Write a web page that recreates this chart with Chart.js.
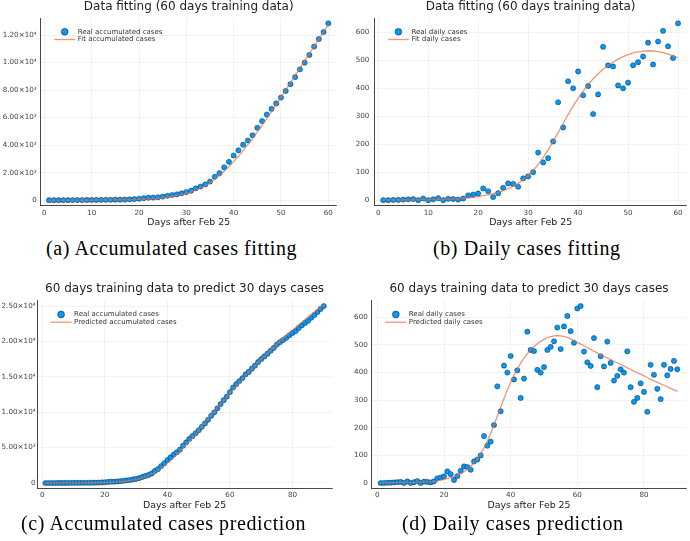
<!DOCTYPE html>
<html><head><meta charset="utf-8">
<script src="https://cdn.jsdelivr.net/npm/chart.js@4.4.0/dist/chart.umd.min.js"></script>
<style>
html,body{margin:0;padding:0;background:#fff;width:690px;height:541px;overflow:hidden;position:relative;}
canvas{position:absolute;display:block;}
.cap{position:absolute;font-family:"Liberation Serif",serif;font-size:20px;letter-spacing:0.6px;color:#000;white-space:nowrap;line-height:20px;}
</style></head><body>
<canvas id="ca" width="345" height="232" style="left:0;top:0;width:345px;height:232px"></canvas>
<canvas id="cb" width="345" height="232" style="left:345px;top:0;width:345px;height:232px"></canvas>
<canvas id="cc" width="345" height="244" style="left:0;top:270px;width:345px;height:244px"></canvas>
<canvas id="cd" width="345" height="244" style="left:345px;top:270px;width:345px;height:244px"></canvas>
<div class="cap" style="left:46px;top:238px">(a) Accumulated cases fitting</div>
<div class="cap" style="left:433px;top:238px">(b) Daily cases fitting</div>
<div class="cap" style="left:21px;top:513px">(c) Accumulated cases prediction</div>
<div class="cap" style="left:402px;top:513px">(d) Daily cases prediction</div>
<script>
const days = [1,2,3,4,5,6,7,8,9,10,11,12,13,14,15,16,17,18,19,20,21,22,23,24,25,26,27,28,29,30,
31,32,33,34,35,36,37,38,39,40,41,42,43,44,45,46,47,48,49,50,51,52,53,54,55,56,57,58,59,60,
61,62,63,64,65,66,67,68,69,70,71,72,73,74,75,76,77,78,79,80,81,82,83,84,85,86,87,88,89,90];

const dailyReal = [0,0,1,1,2,3,4,0,6,0, 3,7,0,5,4,2,6,17,20,24, 42,32,11,25,44,60,58,48,78,85,
100,170,135,150,210,350,260,425,400,460, 375,408,308,378,548,482,478,410,400,420,
482,493,513,563,485,567,605,550,508,632, 641,476,437,424,525,347,459,422,512,435,
371,388,412,400,477,347,294,308,361,330, 258,428,392,341,304,428,390,413,442,412];

const accumReal = [0,0,1,2,4,7,11,11,17,17, 20,27,27,32,36,38,44,61,81,105,
147,179,190,215,259,319,377,425,503,588, 688,858,993,1143,1353,1703,1963,2388,2788,3248,
3623,4031,4339,4717,5265,5747,6225,6635,7035,7455, 7937,8430,8943,9506,9991,10558,11163,11713,12221,12853,
13494,13970,14407,14831,15356,15703,16162,16584,17096,17531, 17902,18290,18702,19102,19579,19926,20220,20528,20889,21219,
21477,21905,22297,22638,22942,23370,23760,24173,24615,25027];

const fitDaily = [1,1,1,1,1,1,1,2,2,2, 2,3,3,3,4,5,6,8,10,13, 16,19,23,28,34,41,50,60,73,88,
106,127,152,180,210,242,274,306,336,364, 390,413,434,452,468,482,494,504,513,520,
526,530,533,534,533,531,527,522,516,509, 503,497,490,484,477,471,465,459,453,447,
441,435,429,423,417,411,405,399,394,388, 382,376,370,365,359,354,348,343,337,332];

const fitAccum = [1,2,3,4,5,6,7,9,11,13, 15,18,21,24,28,33,39,47,57,70,
86,105,128,156,190,231,281,341,414,502, 608,735,887,1067,1277,1519,1793,2099,2435,2799,
3189,3602,4036,4488,4956,5438,5932,6436,6949,7469, 7995,8525,9058,9592,10125,10656,11183,11705,12221,12730,
13233,13730,14220,14704,15181,15652,16117,16576,17029,17476, 17917,18352,18781,19204,19621,20032,20437,20836,21230,21618,
22000,22376,22746,23111,23470,23824,24172,24515,24852,25184];

const xTicks60 = [0,10,20,30,40,50,60];
const xTicks90 = [0,20,40,60,80];
const yTicksAccA = [0,2000,4000,6000,8000,10000,12000];
const yLabelsAccA = ["0","2.00×10³","4.00×10³","6.00×10³","8.00×10³","1.00×10⁴","1.20×10⁴"];
const yTicksAccC = [0,5000,10000,15000,20000,25000];
const yLabelsAccC = ["0","5.00×10³","1.00×10⁴","1.50×10⁴","2.00×10⁴","2.50×10⁴"];
const yTicksDaily = [0,100,200,300,400,500,600];
const yLabelsDaily = ["0","100","200","300","400","500","600"];

const BLUE = '#009AFA', EDGE = 'rgba(20,20,30,0.85)', ORANGE = 'rgba(227,111,71,0.72)';
const SANS = '"DejaVu Sans", sans-serif';

function pts(xs, ys, n) { const out = []; for (let i = 0; i < n; i++) out.push({x: xs[i], y: ys[i]}); return out; }

const legendPlugin = {
  id: 'jlegend',
  afterDatasetsDraw(chart) {
    const {ctx, chartArea} = chart;
    const x0 = chartArea.left, y0 = chartArea.top;
    const ds = chart.data.datasets;
    ctx.save();
    ctx.beginPath(); ctx.moveTo(x0 + 13.5, y0 + 21.5); ctx.lineTo(x0 + 34.5, y0 + 21.5);
    ctx.strokeStyle = ORANGE; ctx.lineWidth = 1.3; ctx.stroke();
    ctx.beginPath(); ctx.arc(x0 + 24, y0 + 13.8, 3.4, 0, Math.PI * 2);
    ctx.fillStyle = BLUE; ctx.fill(); ctx.lineWidth = 0.6; ctx.strokeStyle = EDGE; ctx.stroke();
    ctx.font = '7px ' + SANS; ctx.fillStyle = '#333'; ctx.textBaseline = 'middle'; ctx.textAlign = 'left';
    ctx.fillText(ds[1].label, x0 + 37, y0 + 13.8);
    ctx.fillText(ds[0].label, x0 + 37, y0 + 21.5);
    ctx.restore();
  }
};

function makeChart(id, c) {
  return new Chart(document.getElementById(id), {
    type: 'scatter',
    data: { datasets: [
      { label: c.lineLabel, data: c.lineData, showLine: true, borderColor: ORANGE, borderWidth: 1.3,
        pointRadius: 0, pointHoverRadius: 0, fill: false, tension: 0, order: 1 },
      { label: c.pointLabel, data: c.pointData, backgroundColor: BLUE, borderColor: EDGE, borderWidth: 0.5,
        pointRadius: 2.6, pointHoverRadius: 2.6, order: 2 }
    ]},
    options: {
      responsive: false, animation: false, events: [],
      layout: { padding: { left: 0, right: c.padR, top: 0, bottom: 0 } },
      plugins: {
        legend: { display: false }, tooltip: { enabled: false },
        title: { display: true, text: c.title, fullSize: false, color: '#222',
          font: { family: SANS, size: 12, weight: 'normal', lineHeight: 1 },
          padding: { top: c.tpt, bottom: c.tpb } }
      },
      scales: {
        x: { type: 'linear', min: c.xmin, max: c.xmax,
          afterBuildTicks: s => { s.ticks = c.xTicks.map(v => ({value: v})); },
          afterFit: s => { s.height = c.xH; },
          ticks: { font: { family: SANS, size: 7.2 }, color: '#444', padding: 3, maxRotation: 0, autoSkip: false,
            callback: v => String(v) },
          grid: { color: 'rgba(0,0,0,0.1)', lineWidth: 0.5, drawTicks: false },
          border: { color: 'rgba(40,40,40,0.85)', width: 1 },
          title: { display: true, text: 'Days after Feb 25', color: '#222',
            font: { family: SANS, size: 9.4, lineHeight: 1.2 }, padding: { top: 0, bottom: c.xtpb } } },
        y: { type: 'linear', min: c.ymin, max: c.ymax,
          afterBuildTicks: s => { s.ticks = c.yTicks.map(v => ({value: v})); },
          afterFit: s => { s.width = c.yW; },
          ticks: { font: { family: SANS, size: 7.2 }, color: '#444', padding: c.yPad, autoSkip: false,
            callback: (v, i) => c.yLabels[i] },
          grid: { color: 'rgba(0,0,0,0.1)', lineWidth: 0.5, drawTicks: false },
          border: { color: 'rgba(40,40,40,0.85)', width: 1 } }
      }
    },
    plugins: [legendPlugin]
  });
}

makeChart('ca', { title: 'Data fitting (60 days training data)',
  pointLabel: 'Real accumulated cases', lineLabel: 'Fit accumulated cases',
  pointData: pts(days, accumReal, 60), lineData: pts(days, fitAccum, 60),
  xmin: -0.77, xmax: 61.77, ymin: -386, ymax: 13239, xTicks: xTicks60, yTicks: yTicksAccA, yLabels: yLabelsAccA,
  yW: 40.7, yPad: 4, padR: 8.3, tpt: 1, tpb: 5, xH: 26.5, xtpb: 3.4 });

makeChart('cb', { title: 'Data fitting (60 days training data)',
  pointLabel: 'Real daily cases', lineLabel: 'Fit daily cases',
  pointData: pts(days, dailyReal, 60), lineData: pts(days, fitDaily, 60),
  xmin: -0.77, xmax: 61.77, ymin: -19, ymax: 651, xTicks: xTicks60, yTicks: yTicksDaily, yLabels: yLabelsDaily,
  yW: 29.4, yPad: 5, padR: 0.1, tpt: 1, tpb: 5, xH: 26.5, xtpb: 3.4 });

makeChart('cc', { title: '60 days training data to predict 30 days cases',
  pointLabel: 'Real accumulated cases', lineLabel: 'Predicted accumulated cases',
  pointData: pts(days, accumReal, 90), lineData: pts(days, fitAccum, 90),
  xmin: -1.67, xmax: 92.67, ymin: -751, ymax: 25778, xTicks: xTicks90, yTicks: yTicksAccC, yLabels: yLabelsAccC,
  yW: 37.1, yPad: 1.5, padR: 12.9, tpt: 13.3, tpb: 5.4, xH: 25.7, xtpb: 2.4 });

makeChart('cd', { title: '60 days training data to predict 30 days cases',
  pointLabel: 'Real daily cases', lineLabel: 'Predicted daily cases',
  pointData: pts(days, dailyReal, 90), lineData: pts(days, fitDaily, 90),
  xmin: -1.67, xmax: 92.67, ymin: -19.2, ymax: 660.2, xTicks: xTicks90, yTicks: yTicksDaily, yLabels: yLabelsDaily,
  yW: 26.8, yPad: 4, padR: 3.8, tpt: 13.3, tpb: 5.4, xH: 25.7, xtpb: 2.4 });
</script>
</body></html>
